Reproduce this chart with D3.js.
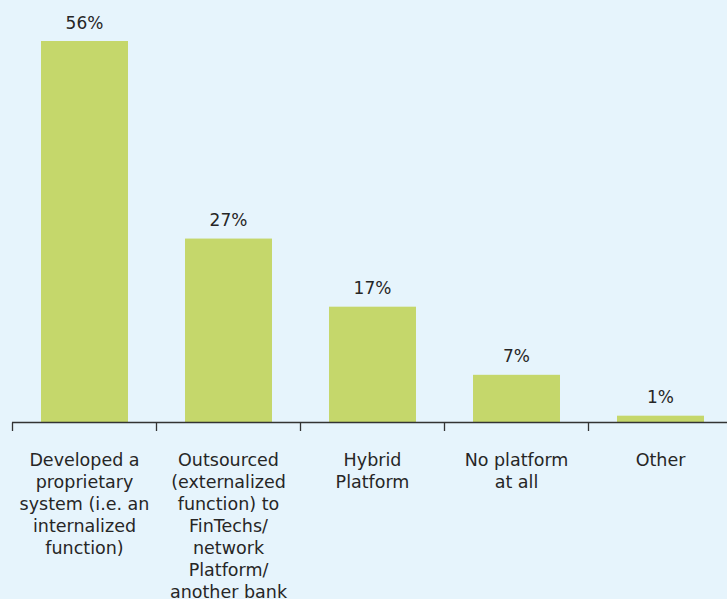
<!DOCTYPE html>
<html>
<head>
<meta charset="utf-8">
<script src="https://cdn.jsdelivr.net/npm/d3@7"></script>
<style>
  html, body { margin: 0; padding: 0; background: #e6f4fc; }
  svg { display: block; }
  text { font-family: 'DejaVu Sans', sans-serif; fill: #262626; }
</style>
</head>
<body>
<figure style="margin:0"></figure>
<script>
const categories = [
  ['Developed a', 'proprietary', 'system (i.e. an', 'internalized', 'function)'],
  ['Outsourced', '(externalized', 'function) to', 'FinTechs/', 'network', 'Platform/', 'another bank'],
  ['Hybrid', 'Platform'],
  ['No platform', 'at all'],
  ['Other']
]
const values = [56, 27, 17, 7, 1]

const width = 727
const height = 599
const baseY = 422.5

const svg = d3.select('figure').append('svg')
  .attr('width', width)
  .attr('height', height)

const x = d3.scaleBand()
  .domain(d3.range(values.length))
  .range([12.5, 12.5 + 144 * values.length])
  .paddingInner(0.396)
  .paddingOuter(0.198)

const y = d3.scaleLinear()
  .domain([0, 56])
  .range([baseY, 41])

svg.append('g')
  .selectAll('rect')
  .data(values)
  .join('rect')
  .attr('x', (d, i) => x(i))
  .attr('y', d => y(d))
  .attr('width', x.bandwidth())
  .attr('height', d => baseY - y(d))
  .attr('fill', '#c5d76b')

svg.append('g')
  .selectAll('text')
  .data(values)
  .join('text')
  .attr('x', (d, i) => x(i) + x.bandwidth() / 2)
  .attr('y', d => y(d) - 12.5)
  .attr('text-anchor', 'middle')
  .style('font-size', '17px')
  .text(d => d + '%')

// axis: ticks on band edges
const edges = d3.range(values.length + 1).map(i => 12.5 + 144 * i)
const axis = svg.append('g').attr('stroke', '#333').attr('stroke-width', 1.3)
axis.append('line')
  .attr('x1', 12).attr('x2', width)
  .attr('y1', baseY).attr('y2', baseY)
axis.selectAll('.tick')
  .data(edges)
  .join('line')
  .attr('x1', d => d).attr('x2', d => d)
  .attr('y1', baseY).attr('y2', baseY + 8.5)

const labels = svg.append('g')
  .selectAll('text')
  .data(categories)
  .join('text')
  .attr('text-anchor', 'middle')
  .style('font-size', '17.5px')
  .attr('transform', (d, i) => `translate(${x(i) + x.bandwidth() / 2},466)`)

labels.selectAll('tspan')
  .data(d => d)
  .join('tspan')
  .attr('x', 0)
  .attr('y', (d, i) => i * 22)
  .text(d => d)
</script>
</body>
</html>
